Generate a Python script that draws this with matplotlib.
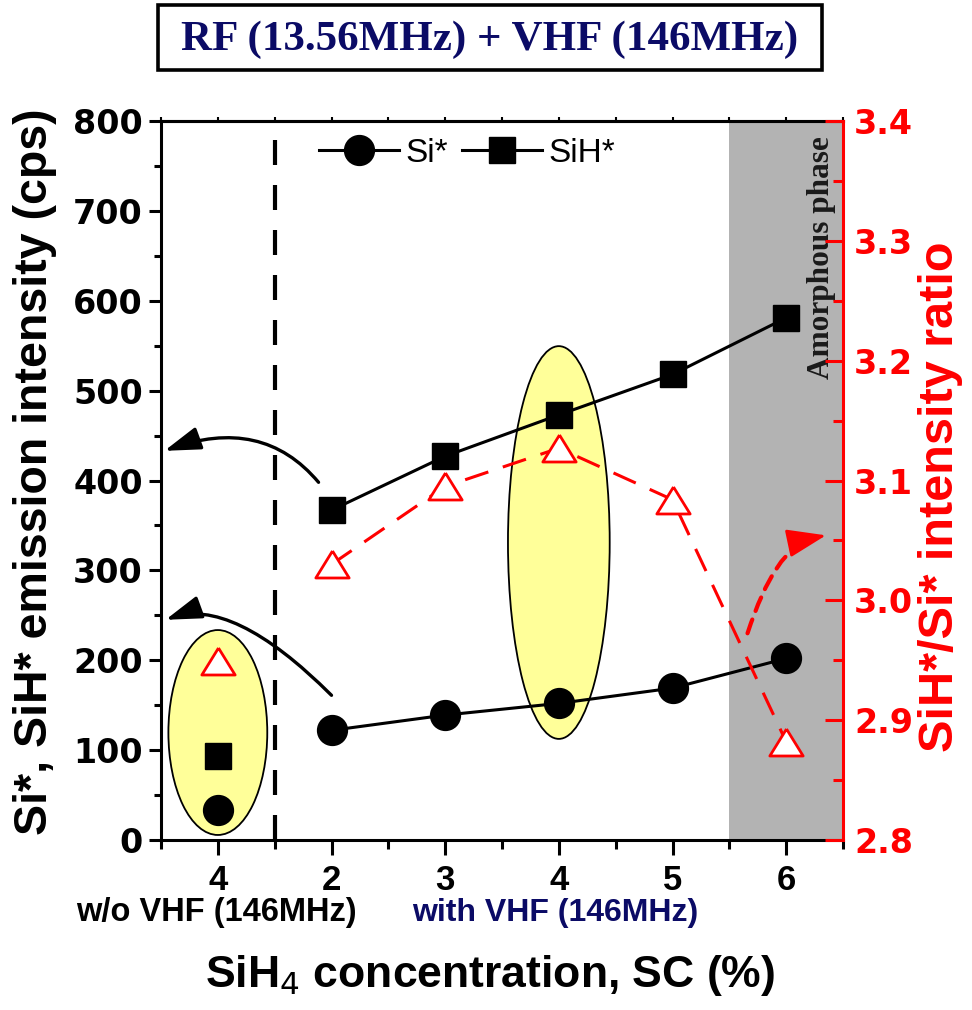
import matplotlib
matplotlib.use('Agg')
import matplotlib.pyplot as plt
from matplotlib.patches import Ellipse, Rectangle
from matplotlib.ticker import MultipleLocator

# data
conditions = ['4', '2', '3', '4', '5', '6']
si_star = [33, 122, 139, 152, 169, 202]
sih_star = [93, 367, 427, 473, 518, 581]
ratio = [2.949, 3.030, 3.095, 3.127, 3.084, 2.882]

SANS = 'Liberation Sans'
SERIF = 'Liberation Serif'
NAVY = '#0b0b66'

fig = plt.figure(figsize=(9.72, 10.10), dpi=100)
ax = fig.add_axes([161 / 972, 1 - 840 / 1010, 682 / 972, 719 / 1010])
ax2 = ax.twinx()

x = list(range(len(conditions)))

# background: amorphous region, divider, ellipses
ax.axvspan(4.5, 5.5, color='#b3b3b3', lw=0, zorder=0)
ax.axvline(0.5, color='k', lw=3, dashes=(6, 4.8), zorder=1)
ax.add_patch(Ellipse((0, 119.6), 0.87, 228, fc='#ffff99', ec='k', lw=1.3, zorder=1))
ax.add_patch(Ellipse((3, 331), 0.895, 437, fc='#ffff99', ec='k', lw=1.3, zorder=1))

# intensities
l1, = ax.plot(x[1:], si_star[1:], '-o', color='k', lw=2.2, ms=21.5, zorder=3, label='Si*')
l2, = ax.plot(x[1:], sih_star[1:], '-s', color='k', lw=2.2, ms=19, zorder=3, label='SiH*')
ax.plot(x[0], si_star[0], 'o', color='k', ms=21.5, zorder=3)
ax.plot(x[0], sih_star[0], 's', color='k', ms=19, zorder=3)

# ratio
tri = [(0, 0.81), (-1, -0.81), (1, -0.81), (0, 0.81)]
ax2.plot(x[1:], ratio[1:], color='red', lw=2.2, dashes=(8, 5), zorder=2)
ax2.plot(x, ratio, ls='none', marker=tri, ms=24, mfc='white', mec='red', mew=2, zorder=4)

# arrows
head = '-|>,head_length=1.0,head_width=0.32'
ax.annotate('', xy=(-0.47, 433), xytext=(0.886, 398),
            arrowprops=dict(arrowstyle=head, color='k', lw=2.4,
                            mutation_scale=22, shrinkA=0, shrinkB=0,
                            connectionstyle='angle3,angleA=130,angleB=20'), zorder=5)
ax.annotate('', xy=(-0.46, 245), xytext=(1.0, 161),
            arrowprops=dict(arrowstyle=head, color='k', lw=2.4,
                            mutation_scale=22, shrinkA=0, shrinkB=0,
                            connectionstyle='angle3,angleA=135,angleB=20'), zorder=5)
# red dashed curve + solid head
ax.annotate('', xy=(5.22, 335), xytext=(4.66, 230),
            arrowprops=dict(arrowstyle='-', color='red', lw=3,
                            ls=(0, (3.5, 2.2)), shrinkA=0, shrinkB=0,
                            connectionstyle='angle3,angleA=72,angleB=15'), zorder=5)
ax.annotate('', xy=(5.35, 339), xytext=(5.2, 335),
            arrowprops=dict(arrowstyle='-|>,head_length=1.1,head_width=0.4', color='red', lw=2,
                            mutation_scale=22, shrinkA=0, shrinkB=0), zorder=5)

ax.text(5.31, 648, 'Amorphous phase', rotation=90, ha='center', va='center',
        family=SERIF, weight='bold', fontsize=22.5, color='#1a1a1a', zorder=2)

# axes
ax.set_xlim(-0.5, 5.5)
ax.set_ylim(0, 800)
ax2.set_ylim(2.8, 3.4)
ax.set_xticks(x)
ax.set_xticklabels(conditions)
ax.xaxis.set_minor_locator(MultipleLocator(0.5))
ax.yaxis.set_major_locator(MultipleLocator(100))
ax.yaxis.set_minor_locator(MultipleLocator(50))
ax2.yaxis.set_major_locator(MultipleLocator(0.1))
ax2.yaxis.set_minor_locator(MultipleLocator(0.05))
ax2.set_yticklabels([f'{v:.1f}' for v in ax2.get_yticks()])

for s in ['left', 'bottom', 'top']:
    ax.spines[s].set_linewidth(2.2)
ax.spines['right'].set_visible(False)
for s in ['left', 'bottom', 'top']:
    ax2.spines[s].set_visible(False)
ax2.spines['right'].set_color('red')
ax2.spines['right'].set_linewidth(2.2)

ax.tick_params(axis='y', which='major', direction='out', length=9, width=2.2, pad=4)
ax.tick_params(axis='y', which='minor', direction='out', length=5, width=2.2)
ax.tick_params(axis='x', which='major', direction='out', length=11, width=2.2, pad=6)
ax.tick_params(axis='x', which='minor', direction='out', length=6.5, width=2.2)
ax2.tick_params(axis='y', which='major', direction='in', length=13, width=2.2, color='red',
                labelcolor='red', pad=8)
ax2.tick_params(axis='y', which='minor', direction='in', length=7, width=2.2, color='red')

top = ax.secondary_xaxis('top')
top.set_xticks(x)
top.xaxis.set_minor_locator(MultipleLocator(0.5))
top.tick_params(which='both', direction='out', length=3, width=1.5, labeltop=False)
top.spines['top'].set_linewidth(2.2)

for lab in ax.get_yticklabels() + ax2.get_yticklabels():
    lab.set_fontfamily('DejaVu Sans')
    lab.set_fontweight('bold')
    lab.set_fontsize(24)
for lab in ax.get_xticklabels():
    lab.set_fontfamily(SANS)
    lab.set_fontweight('bold')
    lab.set_fontsize(25)

ax.legend(handles=[l1, l2], loc='center', bbox_to_anchor=(467 / 972, 1 - 153 / 1010),
          bbox_transform=fig.transFigure, ncol=2, frameon=False, handlelength=2.4,
          handletextpad=0.2, columnspacing=0.4, prop={'family': SANS, 'size': 24})

# labels
fig.text(35 / 972, 1 - 472 / 1010, 'Si*, SiH* emission intensity (cps)', rotation=90,
         ha='center', va='center', family=SANS, weight='bold', fontsize=33.5)
fig.text(940 / 972, 1 - 497 / 1010, 'SiH*/Si* intensity ratio', rotation=90,
         ha='center', va='center', family=SANS, weight='bold', fontsize=35, color='red')
fig.text(490 / 972, 1 - 975 / 1010, 'SiH$_4$ concentration, SC (%)', ha='center', va='center',
         family=SANS, weight='bold', fontsize=32)
fig.text(216 / 972, 1 - 913 / 1010, 'w/o VHF (146MHz)', ha='center', va='center',
         family=SANS, weight='bold', fontsize=23.5)
fig.text(555 / 972, 1 - 913 / 1010, 'with VHF (146MHz)', ha='center', va='center',
         family=SANS, weight='bold', fontsize=23, color=NAVY)

# title box
fig.patches.append(Rectangle((158 / 972, 1 - 70 / 1010), 664 / 972, 65 / 1010, fill=False,
                             ec='k', lw=2.6, transform=fig.transFigure, figure=fig))
fig.text(490 / 972, 1 - 40 / 1010, 'RF (13.56MHz) + VHF (146MHz)', ha='center', va='center',
         family=SERIF, weight='bold', fontsize=31, color=NAVY)

fig.savefig('out.png', dpi=100)
